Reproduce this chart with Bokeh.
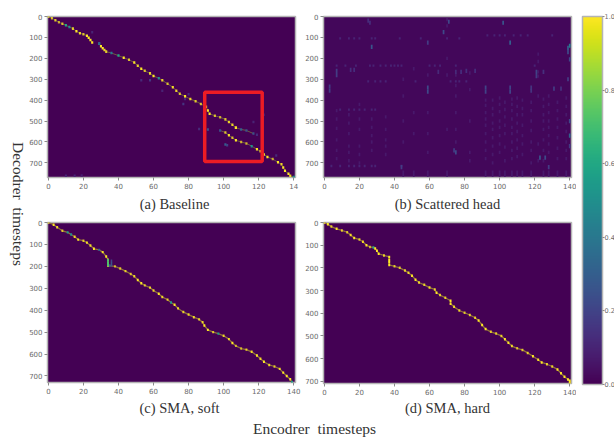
from bokeh.plotting import figure
from bokeh.layouts import row, column
from bokeh.models import Label, ColorBar, LinearColorMapper, FixedTicker, PrintfTickFormatter
from bokeh.palettes import Viridis256
from bokeh.embed import file_html
from bokeh.resources import INLINE

# --- data -----------------------------------------------------------------
x_ticks = [0, 20, 40, 60, 80, 100, 120, 140]
y_ticks = [0, 100, 200, 300, 400, 500, 600, 700]
cb_ticks = [0.0, 0.2, 0.4, 0.6, 0.8, 1.0]
titles = ["(a) Baseline", "(b) Scattered head", "(c) SMA, soft", "(d) SMA, hard"]

# (a) Baseline: alignment branches
a1_enc = [0, 2, 4, 6, 8, 10, 12, 14, 16, 18, 20, 22, 23, 24, 25]
a1_dec = [0, 8, 18, 27, 35, 42, 50, 58, 70, 80, 85, 92, 102, 112, 124]
a1_wt = [.9, .8, .85, .7, .8, .6, .5, .85, 1, .9, .8, 1, 1, 1, 1]
a2_enc = [29, 30, 31, 32, 33, 36, 40, 43, 46, 49, 51, 53, 55, 58, 60, 63, 65, 68, 71, 73, 75, 78, 81, 84, 87, 90, 91, 92, 95, 98, 101, 103, 105, 107]
a2_dec = [130, 142, 152, 160, 168, 175, 187, 197, 207, 220, 235, 250, 260, 272, 285, 295, 305, 322, 338, 355, 370, 382, 395, 405, 418, 432, 450, 465, 475, 482, 492, 505, 518, 532]
a2_wt = [.5, 1, 1, .9, .85, .4, .6, 1, .8, 1, .9, 1, .8, .9, 1, .5, .9, .8, .95, .9, .8, 1, .9, .85, .8, .8, 1, 1, .8, .7, .8, .9, .9, 1]
a3_enc = [107, 110, 113, 117]
a3_dec = [532, 540, 545, 560]
a3_wt = [1, .3, .25, .25]
a4_enc = [98, 101, 103, 105, 107, 110, 113, 116, 119, 121, 123, 125, 128, 131, 133, 134, 135, 137, 138, 140]
a4_dec = [545, 555, 568, 580, 592, 600, 607, 620, 635, 645, 660, 672, 682, 697, 707, 722, 738, 752, 762, 768]
a4_wt = [.25, .8, .95, .8, 1, .7, .7, .5, 1, .8, .9, 1, .7, 1, .9, 1, 1, 1, .9, .5]
a_faint_enc = [53, 58, 65, 25, 78, 80, 77, 86, 91, 101, 102, 117, 119, 123, 130, 10, 15, 19, 29]
a_faint_dec = [305, 305, 355, 75, 395, 372, 418, 538, 540, 612, 616, 505, 565, 470, 665, 762, 762, 760, 128]
a_faint_wt = [.12, .15, .1, .1, .12, .12, .15, .12, .25, .3, .2, .1, .12, .08, .12, .1, .1, .08, .3]

# (b) Scattered head: single cells
b_enc = [27, 71, 68, 102, 106, 140, 139, 59, 75, 74, 92, 92, 59, 59, 3, 3, 106, 106, 118, 118, 131, 135, 7, 7, 15, 17, 25, 26, 81, 78, 86, 65, 75, 121, 121, 125, 140, 140, 139, 123, 126, 128, 44, 140, 140, 139]
b_dec = [145, 25, 75, 30, 125, 140, 150, 125, 650, 640, 340, 360, 340, 360, 335, 355, 340, 360, 340, 355, 345, 345, 260, 280, 255, 255, 20, 30, 260, 265, 260, 265, 265, 265, 285, 265, 570, 500, 300, 675, 675, 720, 720, 205, 620, 170]
b_wt = [.26, .22, .22, .26, .3, .42, .3, .18, .22, .18, .2, .2, .22, .22, .18, .18, .2, .2, .15, .15, .18, .14, .18, .18, .13, .13, .13, .13, .13, .13, .13, .12, .12, .2, .18, .14, .32, .22, .18, .26, .22, .18, .18, .22, .18, .22]
# faint rows and the encoder steps lit on them
b_row_445 = [9, 14, 17, 20, 23, 27, 29]
b_row_105 = [9, 14, 17, 20, 27, 29, 43, 55, 70, 77]
b_row_90 = [93, 97, 100, 103, 108, 112, 116, 130]
b_row_715 = [4, 9, 14, 17, 20, 23, 27, 29, 44]
b_row_235 = [7, 12, 18, 26, 28, 32, 35, 38, 40, 42, 44, 60, 63, 66, 75, 120]
b_row_310 = [25, 29, 32, 35, 52, 72, 75, 77, 81]
# faint columns and the decoder steps lit on them
b_columns = {
    92: [400, 425, 460, 490, 520, 560, 600, 640, 680, 745, 760],
    96: [400, 440, 470, 510, 540, 580, 620, 660, 700, 745, 760],
    100: [390, 420, 455, 500, 530, 570, 610, 650, 745, 760],
    103: [410, 445, 480, 520, 560, 625, 690, 745, 760],
    107: [395, 420, 450, 490, 530, 560, 600, 640, 680, 745, 760],
    110: [390, 430, 470, 510, 550, 590, 630, 670, 745, 760],
    113: [400, 440, 470, 520, 570, 610, 660, 745, 760],
    118: [410, 450, 500, 545, 600, 640, 700, 745, 760],
    125: [395, 430, 470, 500, 540, 590, 640, 690, 745, 760],
    128: [380, 420, 460, 500, 530, 570, 610, 650, 745, 760],
    133: [410, 450, 490, 530, 580, 630, 680, 745, 760],
    138: [390, 430, 470, 510, 550, 600, 640, 680, 745, 760],
    7: [450, 490, 535, 590, 640, 680],
    14: [470, 510, 560, 620, 650, 690],
    20: [420, 490, 540, 620, 660, 700],
    27: [490, 530, 570, 600, 640],
    35: [480, 540, 590, 620, 660],
    45: [300, 380, 500, 600, 745, 760],
    51: [250, 460, 560, 745, 760],
    59: [280, 460, 560, 650, 745, 760],
    70: [15, 45, 200, 280, 540, 745, 760],
    75: [280, 330, 380, 460, 540, 600],
    83: [270, 350, 500, 650, 690],
    122: [180, 215, 265, 285, 380, 610, 690],
}

# (c) SMA, soft
c_enc = [0, 3, 5, 8, 11, 13, 15, 17, 20, 22, 24, 26, 29, 31, 33, 34, 34, 34, 38, 41, 44, 47, 49, 51, 53, 55, 58, 60, 63, 65, 68, 70, 72, 74, 77, 80, 83, 86, 88, 89, 91, 94, 97, 100, 103, 105, 107, 110, 113, 116, 119, 121, 123, 126, 129, 132, 134, 136, 138, 139]
c_dec = [0, 10, 22, 38, 45, 55, 65, 78, 83, 92, 105, 120, 125, 135, 155, 170, 185, 197, 200, 210, 222, 235, 245, 262, 277, 287, 297, 310, 325, 340, 352, 365, 375, 392, 408, 420, 432, 442, 455, 470, 490, 500, 507, 517, 532, 550, 563, 575, 580, 590, 607, 622, 635, 650, 657, 668, 685, 700, 715, 728]
c_wt = [.8, 1, .9, .8, .55, .5, .9, .95, .8, .95, .9, 1, .3, .95, 1, .8, .7, .7, .7, .8, .85, .8, .9, 1, 1, .8, .9, .85, 1, .9, .85, .55, 1, .9, .85, .85, .9, .85, .9, 1, 1, .8, .55, .85, .9, 1, .7, .7, .85, .9, 1, .9, 1, .9, .8, .9, 1, 1, 1, .55]
c_extra_enc = [36, 36, 36, 35]
c_extra_dec = [175, 185, 195, 197]
c_extra_wt = [.2, .25, .25, .25]
c_green_enc = [34, 34, 34]
c_green_dec = [172, 183, 194]
c_green_wt = [.72, .72, .72]

# (d) SMA, hard
d_enc = [0, 2, 4, 7, 10, 13, 15, 17, 20, 22, 24, 26, 28, 29, 30, 31, 34, 37, 37, 37, 37, 40, 43, 46, 48, 50, 52, 54, 57, 60, 63, 64, 66, 69, 72, 72, 74, 77, 80, 83, 86, 88, 90, 92, 95, 98, 101, 103, 105, 107, 110, 113, 116, 119, 122, 124, 127, 130, 133, 135, 137, 139, 140, 140]
d_dec = [0, 8, 18, 28, 35, 43, 55, 68, 75, 85, 100, 108, 110, 115, 125, 138, 145, 152, 165, 175, 187, 193, 200, 212, 222, 235, 252, 265, 275, 287, 295, 310, 320, 332, 345, 358, 372, 388, 398, 408, 420, 432, 452, 470, 482, 490, 500, 515, 530, 545, 555, 562, 575, 590, 605, 617, 625, 635, 648, 665, 680, 692, 698, 708]
d_wt = [.9, 1, .8, 1, .8, .8, .95, 1, .8, .9, 1, .7, .6, 1, 1, 1, .85, 1, 1, 1, 1, .8, .8, .85, .9, 1, 1, .9, .85, .9, .85, 1, .85, .85, 1, 1, .9, .85, .8, .85, .85, 1, 1, 1, .8, .8, .85, 1, 1, .9, .75, .8, .85, 1, .95, 1, .85, .85, 1, 1, 1, 1, 1, 1]

# red box of panel (a)
box_enc = [89.2, 122.0]
box_dec = [362, 693]

# --- drawing -----------------------------------------------------------------
BG = "#440154"
YELLOW = "#fde725"
mapper = LinearColorMapper(palette=Viridis256, low=0, high=1)


def panel(fh, left, right, top, bottom, xmax, ymax, bg=BG):
    p = figure(frame_width=248, frame_height=fh, output_backend="svg", toolbar_location=None,
               x_range=(-0.5, xmax), y_range=(ymax, 0),
               min_border_left=left, min_border_right=right,
               min_border_top=top, min_border_bottom=bottom,
               background_fill_color=bg, border_fill_color="white",
               outline_line_color="#b4b4b4", outline_line_width=1.5)
    p.grid.visible = False
    p.xaxis.ticker = FixedTicker(ticks=x_ticks)
    p.yaxis.ticker = FixedTicker(ticks=y_ticks)
    for ax in (p.xaxis[0], p.yaxis[0]):
        ax.axis_line_color = None
        ax.major_tick_line_color = "#8a8a8a"
        ax.major_tick_in = 0
        ax.major_tick_out = 3
        ax.minor_tick_line_color = None
        ax.major_label_text_font = "DejaVu Sans"
        ax.major_label_text_font_size = "7px"
        ax.major_label_text_color = "#6a6a6a"
        ax.major_label_standoff = 2
    return p


def cells(p, enc, dec, wt, w=1.2, h=12):
    """Strong weights are yellow fading into the purple ground; weak ones follow viridis."""
    colors = [YELLOW if v > 0.6 else Viridis256[int(v * 255)] for v in wt]
    alphas = [v if v > 0.6 else 1.0 for v in wt]
    p.rect(x=enc, y=dec, width=w, height=h, line_color=None,
           fill_color=colors, fill_alpha=alphas)


def path(p, enc, dec, color="#8f6f3a", width=1.3):
    p.line(x=enc, y=dec, line_color=color, line_width=width)


def blank(w, h):
    p = figure(width=w, height=h, output_backend="svg", toolbar_location=None,
               x_range=(0, w), y_range=(h, 0), x_axis_location=None, y_axis_location=None,
               outline_line_color=None, min_border=0)
    p.grid.visible = False
    return p


def put(p, text, x, y, size, angle=0):
    p.add_layout(Label(x=x, y=y, text=text, angle=angle, angle_units="deg",
                       text_font="Liberation Serif", text_font_size=size,
                       text_color="#333333", text_align="center", text_baseline="middle"))


# left strip 0..26, panels a/c from 26, panels b/d from 300, colour bar from 575
pa = panel(161, 20, 6, 16, 15, 141, 770)
pb = panel(161, 22, 5, 16, 15, 141, 770, bg="#43075a")
pc = panel(160, 20, 6, 8, 15, 141, 730)
pd = panel(161, 22, 5, 8, 14, 141, 710)

pa.xaxis.major_label_overrides = {140: "14"}

for enc, dec, wt in ((a1_enc, a1_dec, a1_wt), (a2_enc, a2_dec, a2_wt),
                     (a3_enc, a3_dec, a3_wt), (a4_enc, a4_dec, a4_wt)):
    path(pa, enc, dec, color="#6d5a40", width=1.0)
    cells(pa, enc, dec, wt)
cells(pa, a_faint_enc, a_faint_dec, a_faint_wt)
pa.quad(left=[box_enc[0]], right=[box_enc[1]], top=[box_dec[0]], bottom=[box_dec[1]],
        fill_color=None, line_color="#ec1c24", line_width=3.5)

rows_b = ((445, b_row_445), (105, b_row_105), (90, b_row_90), (715, b_row_715),
          (235, b_row_235), (310, b_row_310))
for d, cols in rows_b:
    cells(pb, cols, [d] * len(cols), [0.1] * len(cols), w=1.1, h=11)
for c, ds in b_columns.items():
    cells(pb, [c] * len(ds), ds, [0.07] * len(ds), w=1.0, h=16)
cells(pb, b_enc, b_dec, b_wt, w=1.0, h=20)

path(pc, c_enc, c_dec)
cells(pc, c_extra_enc, c_extra_dec, c_extra_wt, w=0.9, h=12)
cells(pc, c_enc, c_dec, c_wt, w=1.1, h=11)
pc.rect(x=c_green_enc, y=c_green_dec, width=1.1, height=12, line_color=None,
        fill_color=[Viridis256[int(v * 255)] for v in c_green_wt])

path(pd, d_enc, d_dec)
cells(pd, d_enc, d_dec, d_wt, w=1.1, h=11)

# title strips
t_top = blank(549, 22)
put(t_top, titles[0], 148, 11, "14.5px")
put(t_top, titles[1], 421, 11, "14.5px")
t_bot = blank(549, 23)
put(t_bot, titles[2], 153, 10, "14.5px")
put(t_bot, titles[3], 421, 10, "14.5px")

# colour bar
cf = figure(width=39, height=420, output_backend="svg", toolbar_location=None,
            x_axis_location=None, y_axis_location=None, outline_line_color=None,
            min_border_left=0, min_border_right=0, min_border_top=16, min_border_bottom=36,
            frame_width=6)
cf.grid.visible = False
bar = ColorBar(color_mapper=mapper, ticker=FixedTicker(ticks=cb_ticks),
               formatter=PrintfTickFormatter(format="%.1f"),
               width=20, padding=0, margin=0,
               major_tick_in=0, major_tick_out=2, major_tick_line_color="#8a8a8a",
               minor_tick_line_color=None, bar_line_color="#b4b4b4", bar_line_width=1.5,
               major_label_text_font="DejaVu Sans", major_label_text_font_size="6.5px",
               major_label_text_color="#6a6a6a", label_standoff=0)
cf.add_layout(bar, "right")

left = blank(26, 437)
put(left, "Decodrer \u00a0timesteps", 18, 203.5, "15.5px", angle=-90)
bottom = blank(588, 17)
put(bottom, "Encodrer \u00a0timesteps", 288, 8, "15.5px")

page = row(left, column(row(column(row(pa, pb), t_top, row(pc, pd), t_bot), cf), bottom))
open("out.html", "w").write(file_html(page, INLINE))
